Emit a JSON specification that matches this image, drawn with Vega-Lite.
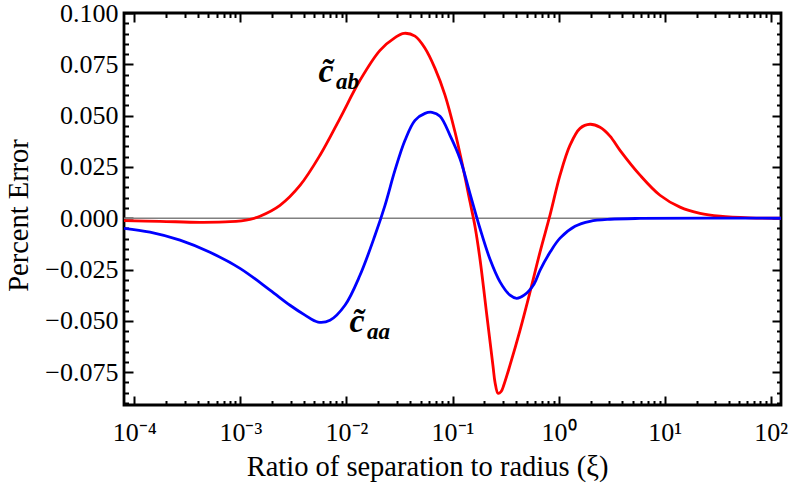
{
  "$schema": "https://vega.github.io/schema/vega-lite/v6.json",
  "width": 657,
  "height": 392,
  "autosize": {"type": "none"},
  "padding": {"left": 124, "top": 13, "right": 20, "bottom": 93},
  "background": "white",
  "config": {
    "view": {"stroke": "black", "strokeWidth": 2.8},
    "font": "Liberation Serif",
    "axis": {
      "domain": false,
      "grid": false,
      "labelFont": "Liberation Serif",
      "titleFont": "Liberation Serif",
      "labelFontSize": 26,
      "titleFontSize": 28.5,
      "titleFontWeight": "normal",
      "labelColor": "black",
      "titleColor": "black",
      "tickColor": "black",
      "tickWidth": 2,
      "labelOverlap": false,
      "labelFlush": false,
      "labelBound": false
    }
  },
  "datasets": {
    "curves": [
      {"s": "ab", "xi": 0.00008, "err": -0.0012},
      {"s": "ab", "xi": 0.0001748, "err": -0.0015},
      {"s": "ab", "xi": 0.0004164, "err": -0.002},
      {"s": "ab", "xi": 0.000799, "err": -0.0017},
      {"s": "ab", "xi": 0.001233, "err": -0.0005},
      {"s": "ab", "xi": 0.001532, "err": 0.001},
      {"s": "ab", "xi": 0.002364, "err": 0.0063},
      {"s": "ab", "xi": 0.00365, "err": 0.016},
      {"s": "ab", "xi": 0.005633, "err": 0.0307},
      {"s": "ab", "xi": 0.0087, "err": 0.0487},
      {"s": "ab", "xi": 0.01342, "err": 0.0672},
      {"s": "ab", "xi": 0.02073, "err": 0.0818},
      {"s": "ab", "xi": 0.0287, "err": 0.088},
      {"s": "ab", "xi": 0.0349, "err": 0.0901},
      {"s": "ab", "xi": 0.04431, "err": 0.0887},
      {"s": "ab", "xi": 0.05505, "err": 0.0828},
      {"s": "ab", "xi": 0.0684, "err": 0.073},
      {"s": "ab", "xi": 0.08497, "err": 0.06},
      {"s": "ab", "xi": 0.1056, "err": 0.042},
      {"s": "ab", "xi": 0.1253, "err": 0.025},
      {"s": "ab", "xi": 0.1462, "err": 0.008},
      {"s": "ab", "xi": 0.163, "err": -0.004},
      {"s": "ab", "xi": 0.1817, "err": -0.02},
      {"s": "ab", "xi": 0.2115, "err": -0.048},
      {"s": "ab", "xi": 0.2409, "err": -0.072},
      {"s": "ab", "xi": 0.2518, "err": -0.08},
      {"s": "ab", "xi": 0.2685, "err": -0.0853},
      {"s": "ab", "xi": 0.2868, "err": -0.0845},
      {"s": "ab", "xi": 0.3059, "err": -0.081},
      {"s": "ab", "xi": 0.3484, "err": -0.0716},
      {"s": "ab", "xi": 0.4329, "err": -0.0546},
      {"s": "ab", "xi": 0.5378, "err": -0.036},
      {"s": "ab", "xi": 0.6683, "err": -0.0165},
      {"s": "ab", "xi": 0.8302, "err": 0.0015},
      {"s": "ab", "xi": 1.032, "err": 0.021},
      {"s": "ab", "xi": 1.282, "err": 0.0356},
      {"s": "ab", "xi": 1.593, "err": 0.0438},
      {"s": "ab", "xi": 1.979, "err": 0.0458},
      {"s": "ab", "xi": 2.458, "err": 0.0443},
      {"s": "ab", "xi": 3.054, "err": 0.04},
      {"s": "ab", "xi": 3.795, "err": 0.0331},
      {"s": "ab", "xi": 5.86, "err": 0.021},
      {"s": "ab", "xi": 9.04, "err": 0.0112},
      {"s": "ab", "xi": 13.96, "err": 0.0054},
      {"s": "ab", "xi": 21.55, "err": 0.0024},
      {"s": "ab", "xi": 33.27, "err": 0.001},
      {"s": "ab", "xi": 63.8, "err": 0.0002},
      {"s": "ab", "xi": 125, "err": 0},
      {"s": "aa", "xi": 0.00008, "err": -0.0049},
      {"s": "aa", "xi": 0.0001406, "err": -0.0068},
      {"s": "aa", "xi": 0.00027, "err": -0.0107},
      {"s": "aa", "xi": 0.000517, "err": -0.0166},
      {"s": "aa", "xi": 0.000992, "err": -0.0244},
      {"s": "aa", "xi": 0.001903, "err": -0.035},
      {"s": "aa", "xi": 0.002938, "err": -0.0424},
      {"s": "aa", "xi": 0.004068, "err": -0.0472},
      {"s": "aa", "xi": 0.005395, "err": -0.0506},
      {"s": "aa", "xi": 0.007, "err": -0.0497},
      {"s": "aa", "xi": 0.00969, "err": -0.0424},
      {"s": "aa", "xi": 0.01342, "err": -0.0278},
      {"s": "aa", "xi": 0.0186, "err": -0.0083},
      {"s": "aa", "xi": 0.0231, "err": 0.0063},
      {"s": "aa", "xi": 0.0287, "err": 0.0234},
      {"s": "aa", "xi": 0.03566, "err": 0.038},
      {"s": "aa", "xi": 0.04431, "err": 0.0477},
      {"s": "aa", "xi": 0.05505, "err": 0.0511},
      {"s": "aa", "xi": 0.06408, "err": 0.0516},
      {"s": "aa", "xi": 0.07624, "err": 0.0497},
      {"s": "aa", "xi": 0.09473, "err": 0.0404},
      {"s": "aa", "xi": 0.1177, "err": 0.029},
      {"s": "aa", "xi": 0.1462, "err": 0.012},
      {"s": "aa", "xi": 0.1817, "err": -0.005},
      {"s": "aa", "xi": 0.2258, "err": -0.02},
      {"s": "aa", "xi": 0.2804, "err": -0.031},
      {"s": "aa", "xi": 0.3484, "err": -0.0375},
      {"s": "aa", "xi": 0.4026, "err": -0.039},
      {"s": "aa", "xi": 0.4732, "err": -0.0375},
      {"s": "aa", "xi": 0.5879, "err": -0.032},
      {"s": "aa", "xi": 0.6683, "err": -0.0254},
      {"s": "aa", "xi": 0.8302, "err": -0.0166},
      {"s": "aa", "xi": 1.032, "err": -0.0097},
      {"s": "aa", "xi": 1.429, "err": -0.0039},
      {"s": "aa", "xi": 1.979, "err": -0.0015},
      {"s": "aa", "xi": 3.054, "err": -0.0005},
      {"s": "aa", "xi": 5.86, "err": -0.0001},
      {"s": "aa", "xi": 125, "err": 0}
    ],
    "labels": [
      {"x": 0.00642, "y": 0.0662, "main": "c̃", "sub": "ab"},
      {"x": 0.01258, "y": -0.0555, "main": "c̃", "sub": "aa"}
    ]
  },
  "resolve": {"axis": {"x": "independent", "y": "independent"}},
  "layer": [
    {
      "data": {"values": [{"z": 0}]},
      "mark": {"type": "rule", "color": "#808080", "strokeWidth": 1.3},
      "encoding": {
        "y": {"field": "z", "type": "quantitative", "axis": null, "scale": {"domain": [-0.091, 0.1], "nice": false, "zero": false}}
      }
    },
    {
      "data": {"name": "curves"},
      "mark": {"type": "line", "strokeWidth": 2.8, "interpolate": "catmull-rom", "clip": true},
      "encoding": {
        "x": {
          "field": "xi", "type": "quantitative",
          "scale": {"type": "log", "domain": [0.00008, 125], "nice": false},
          "axis": {
            "orient": "bottom",
            "values": [0.0001,0.0002,0.0003,0.0004,0.0005,0.0006,0.0007,0.0008,0.0009,0.001,0.002,0.003,0.004,0.005,0.006,0.007,0.008,0.009,0.01,0.02,0.03,0.04,0.05,0.06,0.07,0.08,0.09,0.1,0.2,0.3,0.4,0.5,0.6,0.7,0.8,0.9,1,2,3,4,5,6,7,8,9,10,20,30,40,50,60,70,80,90,100],
            "tickSize": {"condition": {"test": "abs(log(datum.value)/LN10 - round(log(datum.value)/LN10)) < 1e-6", "value": -9}, "value": -4.5},
            "labelPadding": 23,
            "labelBaseline": "top",
            "labelExpr": "abs(log(datum.value)/LN10 - round(log(datum.value)/LN10)) < 1e-6 ? ['10⁻⁴','10⁻³','10⁻²','10⁻¹','10⁰','10¹','10²'][round(log(datum.value)/LN10)+4] : ''",
            "title": "Ratio of separation to radius (ξ)",
            "titleX": 303,
            "titleY": 70,
            "titleBaseline": "alphabetic"
          }
        },
        "y": {
          "field": "err", "type": "quantitative",
          "scale": {"domain": [-0.091, 0.1], "nice": false, "zero": false},
          "axis": {
            "orient": "left",
            "values": [-0.09,-0.085,-0.08,-0.075,-0.07,-0.065,-0.06,-0.055,-0.05,-0.045,-0.04,-0.035,-0.03,-0.025,-0.02,-0.015,-0.01,-0.005,0,0.005,0.01,0.015,0.02,0.025,0.03,0.035,0.04,0.045,0.05,0.055,0.06,0.065,0.07,0.075,0.08,0.085,0.09,0.095,0.1],
            "tickSize": {"condition": {"test": "abs(datum.value/0.025 - round(datum.value/0.025)) < 1e-6", "value": -9}, "value": -4.5},
            "labelPadding": 15,
            "labelExpr": "abs(datum.value/0.025 - round(datum.value/0.025)) < 1e-6 ? format(datum.value, '.3f') : ''",
            "title": "Percent Error",
            "titleX": -97,
            "titleY": 202,
            "titleBaseline": "alphabetic"
          }
        },
        "color": {
          "field": "s", "type": "nominal", "legend": null,
          "scale": {"domain": ["ab", "aa"], "range": ["#ff0000", "#0000ff"]}
        }
      }
    },
    {
      "data": {"name": "curves"},
      "mark": {"type": "point", "opacity": 0},
      "encoding": {
        "x": {
          "field": "xi", "type": "quantitative",
          "scale": {"type": "log", "domain": [0.00008, 125], "nice": false},
          "axis": {
            "orient": "top",
            "values": [0.0001,0.0002,0.0003,0.0004,0.0005,0.0006,0.0007,0.0008,0.0009,0.001,0.002,0.003,0.004,0.005,0.006,0.007,0.008,0.009,0.01,0.02,0.03,0.04,0.05,0.06,0.07,0.08,0.09,0.1,0.2,0.3,0.4,0.5,0.6,0.7,0.8,0.9,1,2,3,4,5,6,7,8,9,10,20,30,40,50,60,70,80,90,100],
            "tickSize": {"condition": {"test": "abs(log(datum.value)/LN10 - round(log(datum.value)/LN10)) < 1e-6", "value": -9}, "value": -4.5},
            "labels": false,
            "title": null
          }
        },
        "y": {
          "field": "err", "type": "quantitative",
          "scale": {"domain": [-0.091, 0.1], "nice": false, "zero": false},
          "axis": {
            "orient": "right",
            "values": [-0.09,-0.085,-0.08,-0.075,-0.07,-0.065,-0.06,-0.055,-0.05,-0.045,-0.04,-0.035,-0.03,-0.025,-0.02,-0.015,-0.01,-0.005,0,0.005,0.01,0.015,0.02,0.025,0.03,0.035,0.04,0.045,0.05,0.055,0.06,0.065,0.07,0.075,0.08,0.085,0.09,0.095,0.1],
            "tickSize": {"condition": {"test": "abs(datum.value/0.025 - round(datum.value/0.025)) < 1e-6", "value": -9}, "value": -4.5},
            "labels": false,
            "title": null
          }
        }
      }
    },
    {
      "data": {"name": "labels"},
      "mark": {"type": "text", "font": "Liberation Serif", "fontStyle": "italic", "fontWeight": "bold", "fontSize": 34, "align": "center", "baseline": "alphabetic", "color": "black"},
      "encoding": {
        "x": {"field": "x", "type": "quantitative", "axis": null, "scale": {"type": "log", "domain": [0.00008, 125], "nice": false}},
        "y": {"field": "y", "type": "quantitative", "axis": null, "scale": {"domain": [-0.091, 0.1], "nice": false, "zero": false}},
        "text": {"field": "main"}
      }
    },
    {
      "data": {"name": "labels"},
      "mark": {"type": "text", "font": "Liberation Serif", "fontStyle": "italic", "fontWeight": "bold", "fontSize": 23, "align": "left", "baseline": "alphabetic", "dx": 10, "dy": 7, "color": "black"},
      "encoding": {
        "x": {"field": "x", "type": "quantitative", "axis": null, "scale": {"type": "log", "domain": [0.00008, 125], "nice": false}},
        "y": {"field": "y", "type": "quantitative", "axis": null, "scale": {"domain": [-0.091, 0.1], "nice": false, "zero": false}},
        "text": {"field": "sub"}
      }
    }
  ]
}
